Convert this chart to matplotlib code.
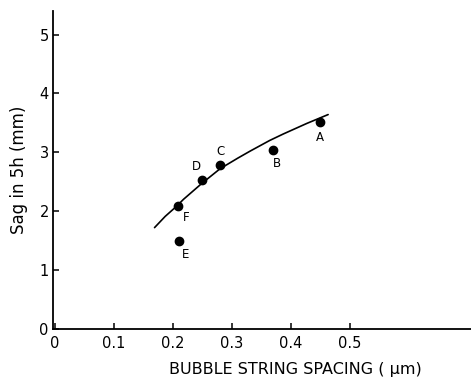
import matplotlib.pyplot as plt

plt.rcParams["font.family"] = ["DejaVu Sans"]

# measured points
labels = ["A", "B", "C", "D", "F", "E"]
spacing = [0.449, 0.369, 0.280, 0.249, 0.208, 0.210]
sag = [3.51, 3.03, 2.78, 2.53, 2.08, 1.49]
# label offsets in points (dx, dy)
offsets = [(0, -11), (3, -9.5), (0, 10), (-3.5, 9.5), (6.5, -8), (5, -9.5)]

# hand-drawn fit curve
curve_x = [0.169, 0.187, 0.206, 0.218, 0.249, 0.280, 0.310, 0.331, 0.364, 0.387, 0.427, 0.463]
curve_y = [1.72, 1.91, 2.08, 2.20, 2.47, 2.72, 2.90, 3.02, 3.20, 3.31, 3.49, 3.64]

xticks = [0, 0.1, 0.2, 0.3, 0.4, 0.5]
xticklabels = ["0", "0.1", "0.2", "0.3", "0.4", "0.5"]
yticks = [0, 1, 2, 3, 4, 5]

fig = plt.figure(figsize=(4.71, 3.78), dpi=100)
ax = fig.add_axes([0.1125, 0.130, 0.8875, 0.841])

ax.plot(curve_x, curve_y, color="black", lw=1.2, solid_capstyle="round", solid_joinstyle="round")
ax.plot(spacing, sag, "o", color="black", ms=6)
for lab, x, y, (dx, dy) in zip(labels, spacing, sag, offsets):
    ax.annotate(lab, (x, y), xytext=(dx, dy), textcoords="offset points",
                ha="center", va="center", fontsize=8.5)

ax.set_xlim(-0.003, 0.705)
ax.set_ylim(0, 5.4)
ax.set_xticks(xticks)
ax.set_xticklabels(xticklabels)
ax.set_yticks(yticks)
ax.tick_params(direction="in", length=4, width=1.1, labelsize=10.5)
ax.tick_params(axis="x", pad=5)
ax.tick_params(axis="y", pad=3)
for side in ["top", "right"]:
    ax.spines[side].set_visible(False)
for side in ["left", "bottom"]:
    ax.spines[side].set_linewidth(1.3)

ax.set_xlabel("BUBBLE STRING SPACING ( \u03bcm)", fontsize=11.5)
ax.xaxis.set_label_coords(0.579, -0.105)
ax.set_ylabel("Sag in 5h (mm)", fontsize=12, labelpad=8)

fig.savefig("out.png", dpi=100)
